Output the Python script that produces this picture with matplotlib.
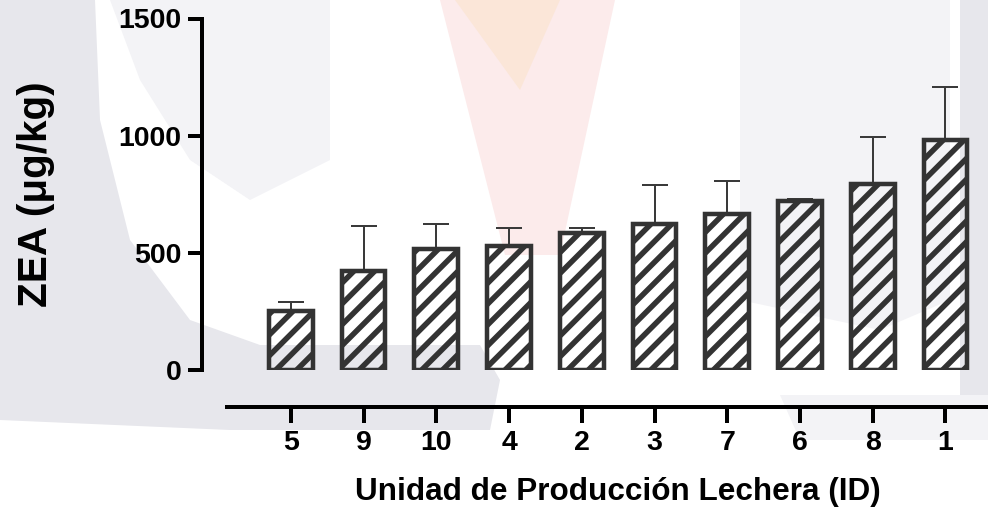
import matplotlib
matplotlib.use("Agg")
import matplotlib.pyplot as plt
import numpy as np
from matplotlib.patches import Polygon


# ZEA por unidad de producción lechera (media + DE)
unit_ids = ["5", "9", "10", "4", "2", "3", "7", "6", "8", "1"]
zea_mean = [252, 423, 516, 531, 583, 622, 665, 723, 792, 982]
zea_sd = [37, 192, 106, 74, 24, 169, 142, 7, 204, 227]
y_ticks = [0, 500, 1000, 1500]

DPI = 125
W, H = 988, 509
PT = 72.0 / DPI  # px -> pt

BAR_COLOR = "#333333"
ERR_COLOR = "#3a3a3a"
GRAY = "#e7e7ec"
LIGHT = "#f3f3f6"


def draw_backdrop(fig):
    """Marca de agua tenue detrás del gráfico."""
    bg = fig.add_axes([0, 0, 1, 1], zorder=-5)
    bg.set_xlim(0, W)
    bg.set_ylim(H, 0)
    bg.axis("off")
    shapes = [
        ([(0, 0), (95, 0), (100, 120), (130, 240), (190, 320), (260, 345),
          (480, 345), (500, 380), (490, 430), (230, 430), (0, 420)], GRAY),
        ([(110, 0), (330, 0), (330, 160), (250, 200), (190, 160), (140, 80)], LIGHT),
        ([(740, 0), (950, 0), (950, 300), (880, 330), (740, 300)], LIGHT),
        ([(960, 0), (988, 0), (988, 400), (960, 400)], GRAY),
        ([(780, 395), (988, 395), (988, 440), (800, 440)], LIGHT),
    ]
    for pts, col in shapes:
        bg.add_patch(Polygon(pts, closed=True, facecolor=col, edgecolor="none"))
    # llama naranja/rosa del logotipo
    bg.add_patch(Polygon([(440, 0), (615, 0), (560, 255), (505, 255)],
                         closed=True, facecolor="#fcebeb", edgecolor="none"))
    bg.add_patch(Polygon([(455, 0), (560, 0), (520, 90)],
                         closed=True, facecolor="#fbe6d8", edgecolor="none"))


def plot_bars():
    plt.rcParams["font.family"] = ["Liberation Sans", "DejaVu Sans"]
    plt.rcParams["font.weight"] = "bold"
    plt.rcParams["hatch.linewidth"] = 5.5 * PT
    plt.rcParams["hatch.color"] = BAR_COLOR

    fig = plt.figure(figsize=(W / DPI, H / DPI), dpi=DPI)
    fig.patch.set_facecolor("white")
    draw_backdrop(fig)

    ax_left, ax_right = 201.7, 988.0
    ax_top, ax_bottom = 18.5, 370.0
    ax_w = ax_right - ax_left
    ax = fig.add_axes([ax_left / W, 1 - ax_bottom / H,
                       ax_w / W, (ax_bottom - ax_top) / H])
    ax.patch.set_alpha(0)

    x = np.arange(len(unit_ids))
    ax.bar(x, zea_mean, width=0.6, facecolor="none", edgecolor=BAR_COLOR,
           linewidth=4.5 * PT, hatch="//", zorder=3)
    ax.errorbar(x, zea_mean, yerr=[np.zeros(len(zea_sd)), zea_sd], fmt="none",
                ecolor=ERR_COLOR, elinewidth=2 * PT, capsize=12.8 * PT,
                capthick=2 * PT, zorder=2)

    spacing = 72.74
    x0 = -(290.8 - ax_left) / spacing
    x1 = x0 + ax_w / spacing
    ax.set_xlim(x0, x1)
    ax.set_ylim(0, 1500)

    for side in ("top", "right"):
        ax.spines[side].set_visible(False)
    ax.spines["left"].set_linewidth(4 * PT)
    ax.spines["left"].set_bounds(0, 1500)
    ax.spines["bottom"].set_linewidth(4 * PT)
    ax.spines["bottom"].set_position(("outward", 37 * PT))
    ax.spines["bottom"].set_bounds(-(290.8 - 227) / spacing, x1)

    ax.set_yticks(y_ticks)
    ax.set_yticklabels([str(v) for v in y_ticks])
    ax.set_xticks(x)
    ax.set_xticklabels(unit_ids)
    ax.tick_params(axis="y", length=14 * PT, width=4 * PT, pad=6 * PT,
                   labelsize=28.5 * PT)
    ax.tick_params(axis="x", length=16 * PT, width=4 * PT, pad=7 * PT,
                   labelsize=28.5 * PT)
    for lab in ax.get_xticklabels() + ax.get_yticklabels():
        lab.set_fontweight("bold")

    ax.set_xlabel("Unidad de Producción Lechera (ID)", fontsize=31.5 * PT,
                  fontweight="bold")
    ax.xaxis.set_label_coords((618 - ax_left) / ax_w, (370 - 477) / 351.5)
    ax.set_ylabel("ZEA (\u03bcg/kg)", fontsize=40.5 * PT, fontweight="bold")
    ax.yaxis.set_label_coords((55 - ax_left) / ax_w, 0.5)

    fig.savefig("out.png", dpi=DPI)
    plt.close(fig)


def main() -> None:
    plot_bars()


if __name__ == "__main__":
    main()
